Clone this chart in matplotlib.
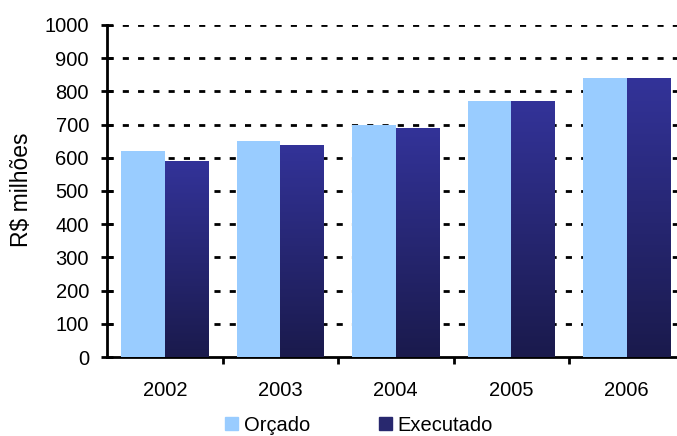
"""Orçado vs Executado bar chart."""
import numpy as np
import matplotlib
matplotlib.use("Agg")
import matplotlib.pyplot as plt
from matplotlib.colors import LinearSegmentedColormap
from matplotlib.patches import Patch

years = ["2002", "2003", "2004", "2005", "2006"]
orcado = [620, 650, 700, 770, 840]
executado = [590, 640, 690, 770, 840]
series_names = ["Orçado", "Executado"]
yticks = list(range(0, 1001, 100))

plt.rcParams["font.family"] = ["Liberation Sans", "DejaVu Sans"]
plt.rcParams["font.size"] = 14.5

fig = plt.figure(figsize=(6.77, 4.36), dpi=100)
ax = fig.add_axes([107 / 677, 79 / 436, 577.5 / 677, 332 / 436])

x = np.arange(len(years))
w = 0.375
light = "#99ccff"
grad = LinearSegmentedColormap.from_list("exec", ["#1a1a4c", "#333399"])

ax.bar(x - w / 2, orcado, w, color=light, zorder=3)
bars = ax.bar(x + w / 2, executado, w, color="none", zorder=3)

# vertical gradient inside each Executado bar
ramp = np.linspace(0, 1, 256).reshape(-1, 1)
for b in bars:
    x0, y0 = b.get_x(), b.get_y()
    im = ax.imshow(ramp, cmap=grad, origin="lower", aspect="auto",
                   extent=[x0, x0 + b.get_width(), y0, y0 + b.get_height()],
                   zorder=3)
    im.set_clip_path(b)

ax.set_xlim(-0.5, len(years) - 0.5)
ax.set_ylim(0, 1000)
ax.set_yticks(yticks)
ax.set_xticks(x)
ax.set_xticklabels(years)
ax.set_xticks(np.arange(len(years)) + 0.5, minor=True)

for v in yticks[1:]:
    ax.axhline(v, color="black", lw=2, ls=(0, (2.2, 3.3)), zorder=1)

for s in ["top", "right"]:
    ax.spines[s].set_visible(False)
for s in ["left", "bottom"]:
    ax.spines[s].set_linewidth(2)

ax.tick_params(axis="y", direction="inout", length=8, width=2, pad=9)
ax.tick_params(axis="x", which="major", length=0, pad=17)
ax.tick_params(axis="x", which="minor", direction="out", length=5, width=2)

ax.set_ylabel("R$ milhões", fontsize=16.5)
ax.yaxis.set_label_coords(-0.128, 0.505)

handles = [Patch(color=light), Patch(color="#28286e")]
fig.legend(handles, series_names, loc="center", bbox_to_anchor=(359 / 677, 11 / 436),
           ncol=2, frameon=False, handlelength=0.65, handleheight=0.65,
           handletextpad=0.3, columnspacing=3.4, borderpad=0)

fig.savefig("out.png", dpi=100)
